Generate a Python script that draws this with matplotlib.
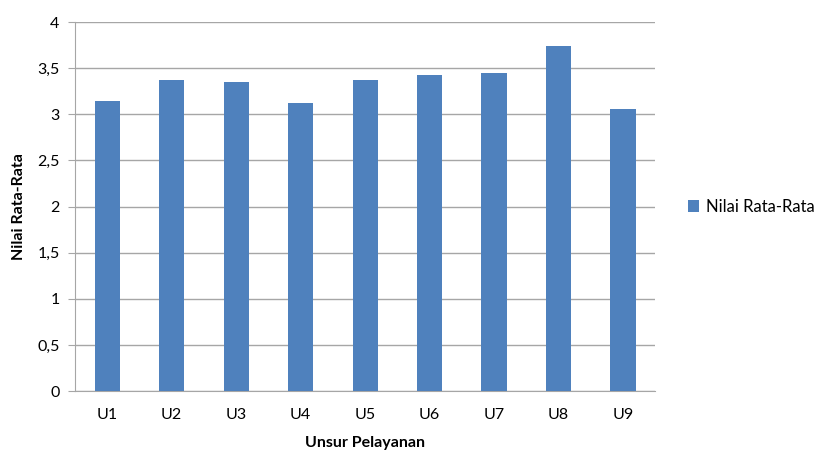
import matplotlib
matplotlib.use("Agg")
import matplotlib.pyplot as plt
from matplotlib.ticker import FuncFormatter

# data
categories = ["U1", "U2", "U3", "U4", "U5", "U6", "U7", "U8", "U9"]
values = [3.14, 3.37, 3.35, 3.12, 3.37, 3.43, 3.45, 3.74, 3.06]
series_name = "Nilai Rata-Rata"

plt.rcParams['font.family'] = ['Lato', 'DejaVu Sans']

fig = plt.figure(figsize=(8.14, 4.50), dpi=100)
ax = fig.add_axes([0.092, 0.131, 0.713, 0.82])

ax.bar(categories, values, width=0.39, color="#4F81BD", label=series_name, zorder=3)

ax.set_ylim(0, 4)
ax.set_xlim(-0.5, len(categories) - 0.5)
ax.set_yticks([0, 0.5, 1, 1.5, 2, 2.5, 3, 3.5, 4])
ax.yaxis.set_major_formatter(FuncFormatter(lambda v, p: ("%g" % v).replace(".", ",")))
ax.grid(axis="y", color="#A6A6A6", linewidth=1, zorder=0)

for s in ["top", "right"]:
    ax.spines[s].set_visible(False)
ax.spines["left"].set_color("#A6A6A6")
ax.spines["bottom"].set_color("#A6A6A6")
ax.tick_params(axis="y", length=5, color="#A6A6A6", labelsize=11.5, pad=6)
ax.tick_params(axis="x", length=0, labelsize=11.5, pad=12)

ax.set_xlabel("Unsur Pelayanan", fontsize=11.5, fontweight="bold", labelpad=10)
ax.set_ylabel("Nilai Rata-Rata", fontsize=11.5, fontweight="bold", labelpad=8)

ax.legend(loc="center left", bbox_to_anchor=(1.03, 0.5), frameon=False,
          fontsize=12, handlelength=0.7, handleheight=0.7, handletextpad=0.4)

fig.savefig("out.png", dpi=100)
